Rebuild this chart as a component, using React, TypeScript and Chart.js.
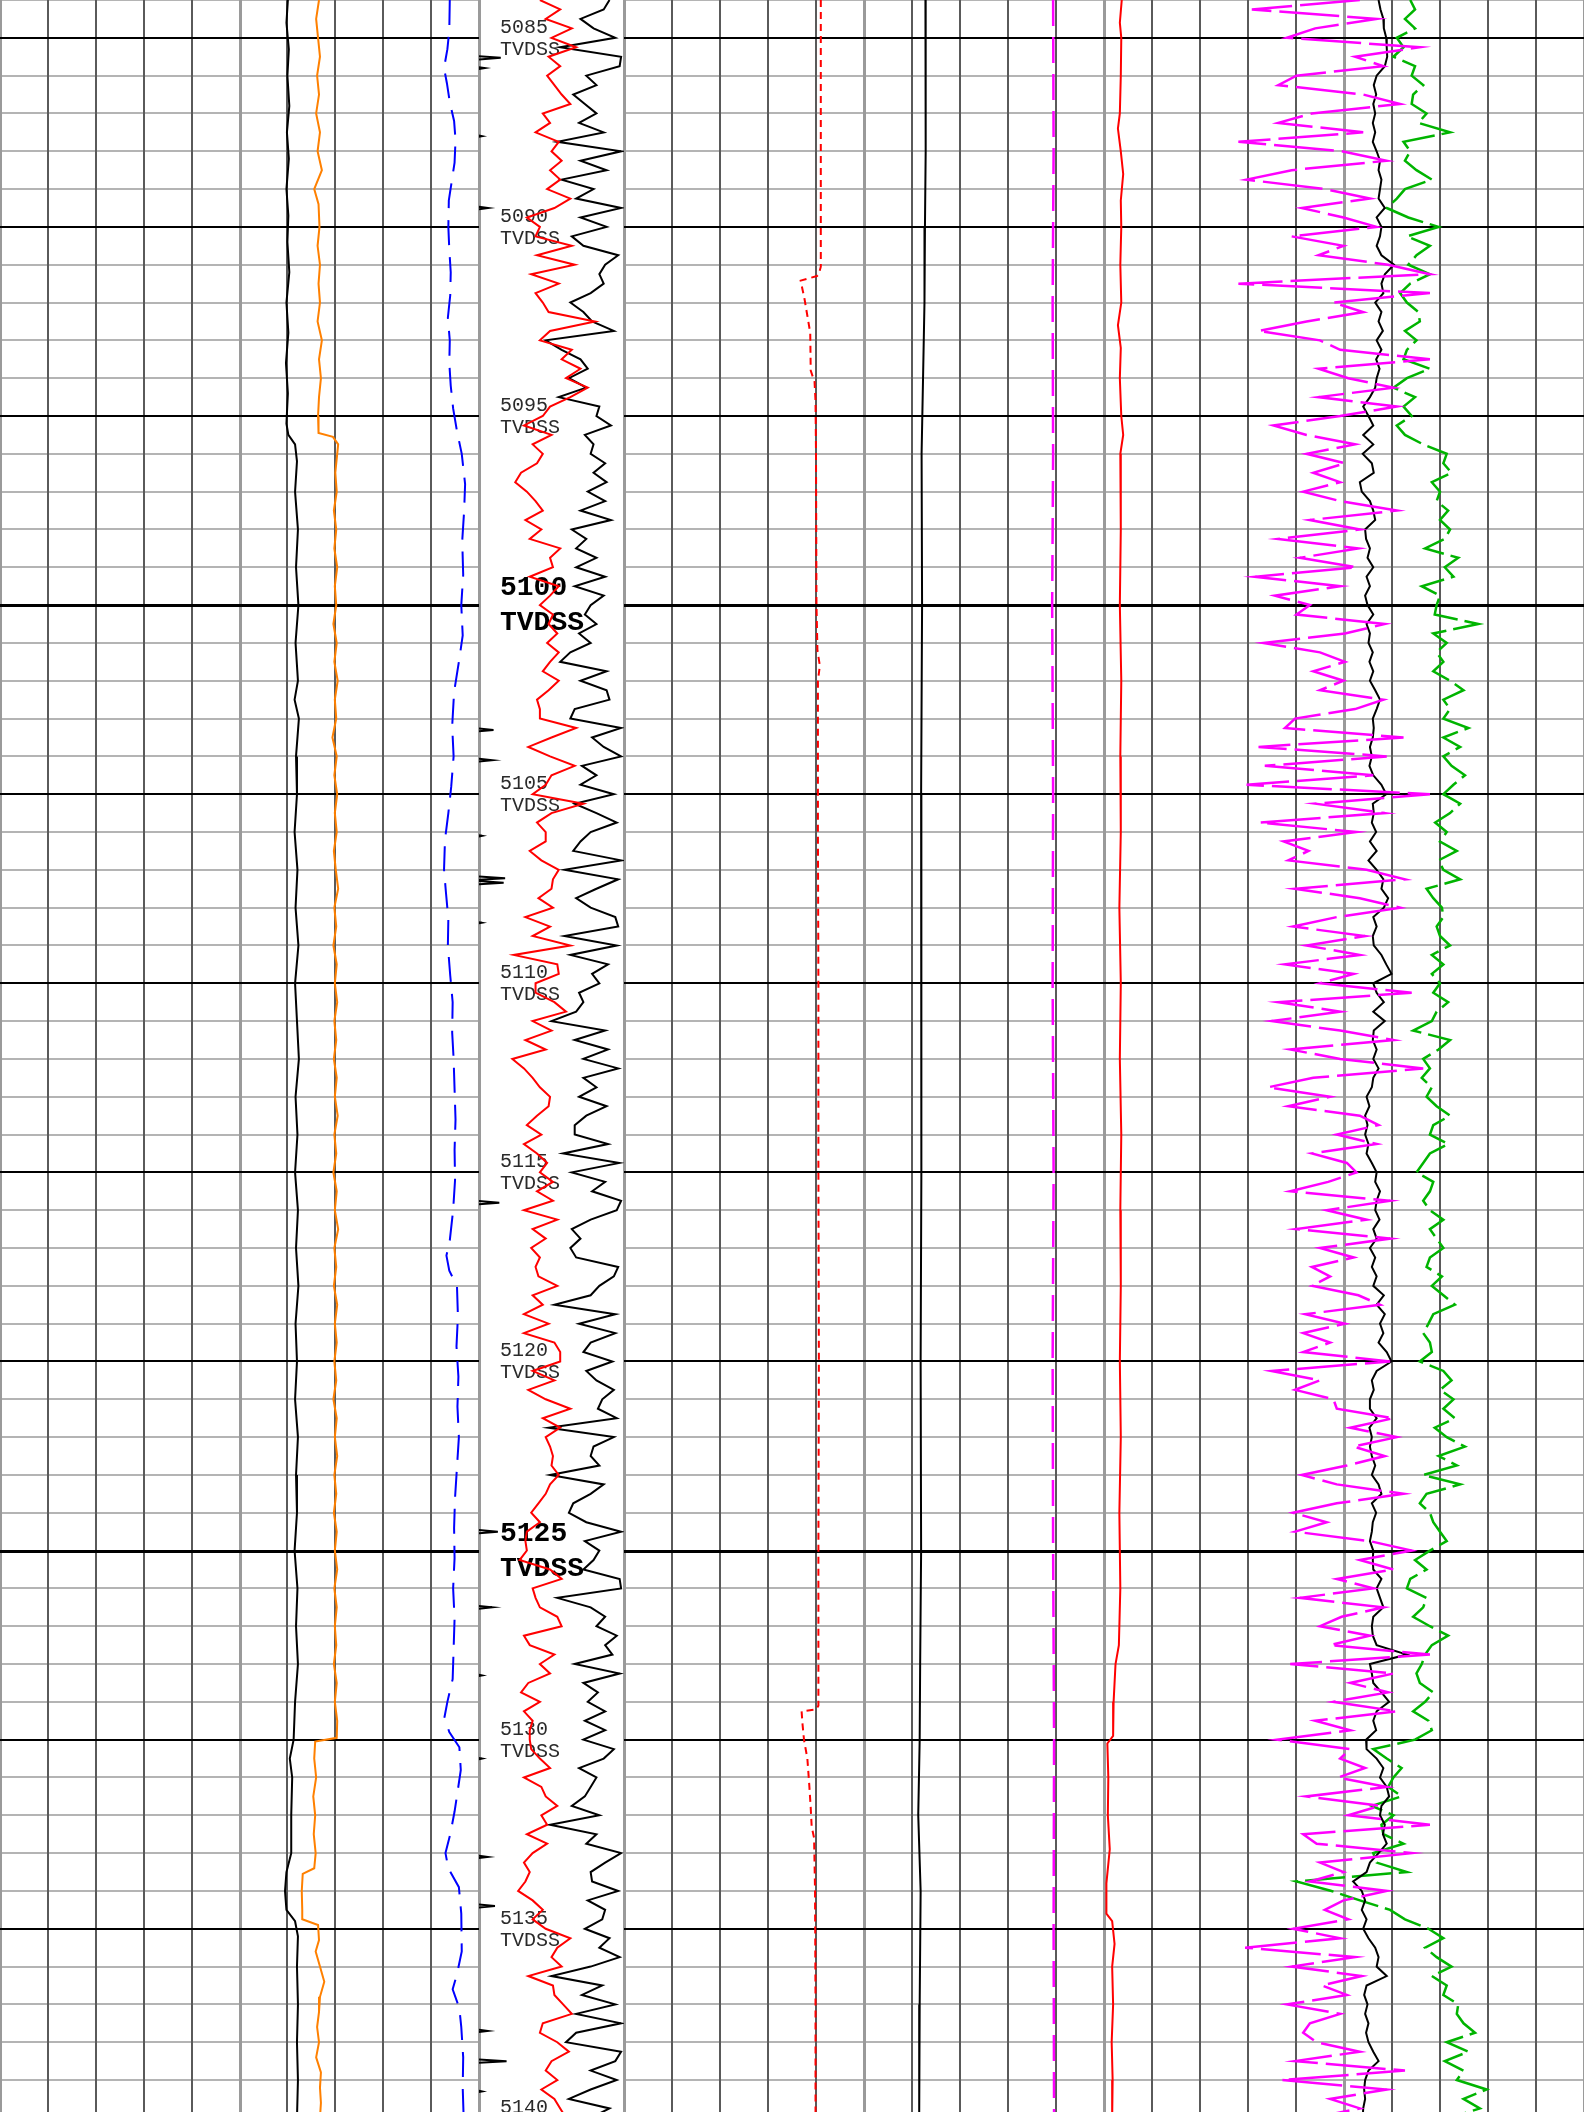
import React, { useEffect, useRef } from 'react';
import { Chart, registerables } from 'chart.js';

Chart.register(...registerables);

// ---------------- depth frame ----------------
const TOP_DEPTH = 5084.0;
const BOTTOM_DEPTH = 5139.845;
const SAMPLE_STEP = 0.25; // sample interval (m) of the high-resolution curves
const PAGE_HEIGHT = 2112;

const trackGridValues = [0, 10, 20, 30, 40, 50, 60, 70, 80, 90, 100];
const trackHeavyValues = [0, 50, 100];
const depthTrackEdges = [0, 100];
const depthLabels = [5085, 5090, 5095, 5100, 5105, 5110, 5115, 5120, 5125, 5130, 5135, 5140];
const boldDepthLabels = [5100, 5125];
const depthUnit = 'TVDSS';

// ---------------- track 1 ----------------
const track1Black: [number, number][] = [
  [5084.0, 60.1], [5084.6, 59.8], [5085.3, 60.3], [5086.0, 60.0], [5086.8, 60.4], [5087.5, 59.9], [5088.2, 60.3],
  [5089.0, 59.8], [5089.7, 60.2], [5090.4, 60.0], [5091.2, 60.4], [5092.0, 59.8], [5092.8, 60.2], [5093.6, 59.7],
  [5094.4, 60.1], [5095.2, 59.8], [5095.5, 60.2], [5095.75, 61.6], [5096.2, 62.0], [5097.0, 61.6], [5098.0, 62.2],
  [5099.0, 61.8], [5100.0, 62.3], [5101.0, 61.7], [5102.0, 62.2], [5102.5, 61.5], [5103.0, 62.4], [5104.0, 61.8],
  [5105.0, 62.0], [5106.0, 61.5], [5107.0, 62.1], [5108.0, 61.7], [5109.0, 62.3], [5110.0, 61.6], [5111.0, 62.0],
  [5112.0, 62.4], [5113.0, 61.7], [5114.0, 62.1], [5115.0, 61.6], [5116.0, 62.2], [5117.0, 61.8], [5118.0, 62.3],
  [5119.0, 61.7], [5120.0, 62.0], [5121.0, 61.6], [5122.0, 62.2], [5123.0, 61.8], [5124.0, 62.0], [5125.0, 61.5],
  [5126.0, 62.1], [5127.0, 61.8], [5128.0, 62.2], [5129.0, 61.6], [5130.0, 61.3], [5130.5, 60.5], [5131.0, 61.0],
  [5132.0, 60.8], [5133.0, 60.8], [5133.5, 59.8], [5134.0, 59.5], [5134.5, 59.8], [5134.8, 61.6], [5135.2, 62.2],
  [5136.0, 62.0], [5137.0, 62.2], [5138.0, 62.0], [5139.0, 62.2], [5140.0, 62.0],
];

const track1Orange: [number, number][] = [
  [5084.0, 66.6], [5084.5, 66.0], [5085.0, 66.4], [5085.5, 66.8], [5086.0, 66.2], [5086.5, 66.6], [5087.0, 66.0],
  [5087.5, 66.8], [5088.0, 66.3], [5088.5, 67.2], [5089.0, 65.6], [5089.4, 66.5], [5090.0, 66.7], [5090.5, 66.3],
  [5091.0, 66.8], [5091.5, 66.5], [5092.0, 66.8], [5092.5, 66.3], [5093.0, 67.2], [5093.5, 66.6], [5094.0, 67.0],
  [5094.5, 66.6], [5095.0, 66.4], [5095.45, 66.5], [5095.55, 69.5], [5095.75, 70.6], [5096.0, 70.4], [5096.5, 70.0],
  [5097.0, 70.3], [5097.5, 69.7], [5098.0, 70.2], [5098.5, 69.8], [5099.0, 70.4], [5099.5, 69.9], [5100.0, 70.2],
  [5100.5, 69.6], [5101.0, 70.3], [5101.5, 69.8], [5102.0, 70.5], [5102.5, 69.9], [5103.0, 70.2], [5103.5, 69.4],
  [5104.0, 70.3], [5104.5, 69.8], [5105.0, 70.4], [5105.5, 69.9], [5106.0, 70.3], [5106.5, 69.7], [5107.0, 70.1],
  [5107.5, 70.6], [5108.0, 69.8], [5108.5, 70.2], [5109.0, 69.6], [5109.5, 70.3], [5110.0, 69.9], [5110.5, 70.4],
  [5111.0, 69.8], [5111.5, 70.2], [5112.0, 69.7], [5112.5, 70.3], [5113.0, 69.9], [5113.5, 70.5], [5114.0, 69.8],
  [5114.5, 70.2], [5115.0, 69.6], [5115.5, 70.3], [5116.0, 69.9], [5116.5, 70.6], [5117.0, 69.8], [5117.5, 70.2],
  [5118.0, 69.7], [5118.5, 70.4], [5119.0, 69.9], [5119.5, 70.3], [5120.0, 69.8], [5120.5, 70.2], [5121.0, 69.6],
  [5121.5, 70.3], [5122.0, 69.9], [5122.5, 70.4], [5123.0, 69.8], [5123.5, 70.2], [5124.0, 69.7], [5124.5, 70.3],
  [5125.0, 69.9], [5125.5, 70.4], [5126.0, 69.8], [5126.5, 70.3], [5127.0, 69.9], [5127.5, 70.2], [5128.0, 69.7],
  [5128.5, 70.3], [5129.0, 69.9], [5129.5, 70.4], [5129.95, 70.3], [5130.05, 65.8], [5130.5, 65.6], [5131.0, 66.0],
  [5131.5, 65.4], [5132.0, 65.8], [5132.5, 65.5], [5133.0, 65.9], [5133.4, 65.6], [5133.55, 63.2], [5134.0, 63.0],
  [5134.5, 63.1], [5134.75, 63.1], [5134.9, 66.4], [5135.3, 66.6], [5135.6, 65.9], [5136.0, 66.8], [5136.4, 67.7],
  [5136.8, 66.8], [5137.2, 66.6], [5137.6, 66.2], [5138.0, 66.6], [5138.4, 66.0], [5138.8, 67.0], [5139.2, 66.8],
  [5139.6, 67.0], [5140.0, 66.8],
];

const track1BlueDash: [number, number][] = [
  [5084.0, 93.9], [5084.8, 93.8], [5085.3, 93.4], [5085.8, 92.7], [5086.2, 93.3], [5086.7, 93.9], [5087.2, 94.8],
  [5087.7, 95.1], [5088.3, 94.9], [5088.8, 94.3], [5089.3, 93.7], [5090.0, 93.6], [5090.6, 93.8], [5091.2, 94.1],
  [5091.8, 94.0], [5092.4, 93.5], [5093.0, 93.9], [5093.6, 93.8], [5094.2, 94.1], [5094.8, 94.6], [5095.4, 95.4],
  [5096.0, 96.4], [5096.8, 97.1], [5097.5, 96.9], [5098.3, 96.5], [5099.2, 96.7], [5100.0, 96.3], [5100.8, 96.6],
  [5101.5, 95.8], [5102.3, 94.8], [5103.2, 94.4], [5104.0, 94.7], [5104.8, 94.2], [5105.5, 93.6], [5106.2, 92.9],
  [5107.0, 92.7], [5107.6, 93.1], [5108.3, 93.6], [5109.0, 93.5], [5109.8, 94.0], [5110.5, 94.5], [5111.3, 94.4],
  [5112.0, 94.7], [5112.8, 94.9], [5113.6, 95.1], [5114.4, 94.9], [5115.2, 95.0], [5116.0, 94.6], [5116.8, 93.9],
  [5117.2, 93.2], [5117.6, 93.8], [5118.0, 95.4], [5118.8, 95.6], [5119.6, 95.3], [5120.4, 95.7], [5121.2, 95.5],
  [5122.0, 95.8], [5122.8, 95.4], [5123.6, 95.0], [5124.4, 94.8], [5125.2, 94.9], [5126.0, 94.6], [5126.8, 94.9],
  [5127.6, 94.7], [5128.4, 94.5], [5129.0, 93.4], [5129.4, 92.8], [5129.8, 93.8], [5130.2, 95.9], [5130.8, 96.2],
  [5131.4, 95.5], [5131.9, 94.9], [5132.5, 94.0], [5133.0, 93.0], [5133.4, 93.6], [5133.9, 95.8], [5134.6, 96.3],
  [5135.6, 96.4], [5136.2, 95.4], [5136.6, 94.5], [5137.1, 95.9], [5137.6, 96.3], [5138.4, 96.7], [5139.2, 96.6],
  [5140.0, 96.8],
];

// ---------------- depth track ----------------
const depthRed = [
  42, 56, 46, 64, 50, 67, 48, 56, 47, 52, 57, 63, 44, 49, 39, 55, 50, 57, 49, 56,
  47, 63, 52, 33, 42, 39, 64, 40, 66, 36, 55, 39, 44, 48, 80, 49, 42, 64, 57, 70,
  60, 75, 63, 49, 44, 31, 50, 37, 44, 40, 29, 25, 33, 39, 44, 32, 43, 35, 56, 49,
  51, 35, 55, 49, 42, 51, 48, 54, 47, 55, 49, 44, 55, 48, 40,
  42, 42, 67, 50, 34, 49, 66, 50, 46, 37, 72, 50, 40, 46, 46, 35, 43, 55, 51, 50,
  41, 51, 32, 49, 37, 63, 24, 54, 55, 39, 39, 52, 60, 37, 50, 32, 46, 23, 31, 37,
  42, 49, 48, 40, 33, 43, 31, 40, 47, 42, 51, 40, 51, 31, 54, 37, 46, 36, 42, 39,
  41, 54, 37, 44, 31, 48, 31, 52, 56, 56, 37, 52, 34, 46,
  63, 44, 56, 46, 49, 51, 50, 55, 49, 46, 41, 36, 42, 33, 32, 33, 28, 49, 57, 37,
  39, 42, 54, 57, 31, 35, 52, 42, 49, 34, 29, 42, 31, 37, 35, 35, 36, 42, 49, 31,
  43, 46, 54, 43, 47, 33, 47, 37, 31, 35, 32, 27, 37, 44, 37, 46, 63, 54, 50, 57,
  34, 51, 52, 58, 64, 44, 42, 54, 62, 50, 46, 54, 43, 52, 56, 60,
];

const depthBlack = [
  90, 86, 70, 79, 94, 56, 98, 97, 74, 81, 65, 73, 81, 69, 86, 54, 98, 70, 88, 57,
  79, 67, 98, 70, 88, 64, 72, 96, 87, 83, 86, 77, 63, 72, 78, 93, 46, 57, 70, 75,
  62, 74, 55, 83, 81, 91, 73, 79, 77, 87, 79, 88, 75, 87, 70, 91, 64, 74, 67, 81,
  67, 87, 66, 86, 77, 73, 81, 69, 77, 63, 56, 88, 70, 88, 90,
  66, 63, 98, 78, 86, 98, 71, 81, 70, 93, 66, 81, 95, 77, 70, 65, 98, 59, 96, 81,
  67, 77, 94, 96, 59, 95, 63, 89, 78, 83, 69, 72, 67, 50, 87, 66, 89, 72, 96, 72,
  81, 69, 88, 74, 66, 66, 89, 58, 97, 64, 87, 78, 98, 95, 77, 64, 70, 63, 67, 96,
  93, 83, 77, 52, 94, 69, 94, 77, 72, 92, 74, 81, 93, 85,
  82, 95, 48, 93, 79, 77, 83, 49, 86, 77, 65, 62, 74, 98, 73, 83, 79, 72, 97, 98,
  54, 77, 87, 81, 95, 87, 92, 66, 97, 72, 82, 75, 87, 73, 87, 72, 93, 86, 69, 81,
  77, 73, 64, 83, 49, 81, 74, 98, 87, 77, 78, 96, 75, 87, 85, 73, 90, 83, 97, 77,
  50, 85, 71, 94, 67, 98, 67, 60, 98, 94, 77, 95, 77, 62, 90, 77,
];

// [depth, deflection] of the short spikes at the left edge of the depth track
const depthSpikes: [number, number][] = [
  [5085.53, 15], [5085.8, 4], [5087.6, 2], [5089.5, 6], [5103.3, 10], [5104.1, 9], [5106.1, 2],
  [5107.22, 18], [5107.34, 17], [5108.4, 2], [5115.8, 14], [5124.5, 13], [5126.5, 9], [5128.3, 2],
  [5130.5, 2], [5133.1, 6], [5134.4, 11], [5137.7, 6], [5138.5, 19], [5139.3, 2],
];
const SPIKE_BASE = -6;

// ---------------- track 2 ----------------
const track2RedDot: [number, number][] = [
  [5084.0, 41.0], [5091.05, 41.0], [5091.25, 40.6], [5091.3, 40.2], [5091.42, 36.8], [5091.9, 37.6],
  [5092.35, 38.2], [5092.8, 38.8], [5093.8, 38.9], [5094.1, 39.7], [5094.6, 39.9], [5096.0, 40.0],
  [5100.0, 40.1], [5101.2, 40.3], [5101.6, 40.8], [5102.0, 40.4], [5106.0, 40.4], [5110.0, 40.5],
  [5115.0, 40.5], [5120.0, 40.6], [5125.0, 40.5], [5129.1, 40.5], [5129.2, 40.0], [5129.25, 37.0],
  [5129.6, 37.2], [5130.0, 37.5], [5130.5, 38.2], [5131.2, 38.6], [5131.8, 38.9], [5132.3, 39.1],
  [5132.6, 39.6], [5134.0, 39.8], [5137.0, 39.9], [5140.0, 39.9],
];

const track2Black: [number, number][] = [
  [5084, 62.8], [5086, 62.9], [5088, 62.8], [5090, 62.7], [5092, 62.6], [5094, 62.3], [5096, 62.0],
  [5100, 62.1], [5105, 61.9], [5110, 61.9], [5115, 62.0], [5120, 61.8], [5125, 61.9], [5128, 61.7],
  [5130, 61.6], [5132, 61.3], [5134, 61.8], [5137, 61.6], [5140, 61.5],
];

const track2MagentaDash: [number, number][] = [
  [5084, 89.4], [5088, 89.5], [5092, 89.3], [5096, 89.4], [5100, 89.2], [5105, 89.4], [5110, 89.3],
  [5115, 89.5], [5120, 89.3], [5125, 89.4], [5130, 89.6], [5135, 89.5], [5140, 89.6],
];

// ---------------- track 3 ----------------
const track3Red: [number, number][] = [
  [5084.0, 3.7], [5084.6, 3.3], [5085.0, 3.6], [5086.0, 3.5], [5087.0, 3.3], [5087.4, 2.9], [5088.0, 3.5],
  [5088.6, 4.0], [5089.3, 3.5], [5090.0, 3.6], [5091.0, 3.4], [5092.0, 3.6], [5092.6, 2.9], [5093.2, 3.5],
  [5094.0, 3.3], [5095.0, 3.6], [5095.5, 4.0], [5096.0, 3.4], [5098.0, 3.5], [5100.0, 3.3], [5102.0, 3.6],
  [5104.0, 3.4], [5106.0, 3.5], [5108.0, 3.2], [5110.0, 3.5], [5112.0, 3.3], [5114.0, 3.6], [5116.0, 3.4],
  [5118.0, 3.5], [5120.0, 3.3], [5122.0, 3.5], [5124.0, 3.2], [5126.0, 3.4], [5127.5, 3.1], [5128.0, 2.4],
  [5129.0, 2.0], [5129.9, 1.9], [5130.1, 0.7], [5131.0, 0.9], [5132.0, 0.8], [5132.9, 1.2], [5133.8, 0.5],
  [5134.6, 0.5], [5134.8, 1.7], [5135.4, 2.2], [5136.0, 1.7], [5137.0, 1.9], [5138.0, 1.6], [5139.0, 1.8],
  [5140.0, 1.7],
];

const track3Magenta = [
  53.3, 30.8, 56.8, 44.0, 38.1, 65.8, 52.3, 58.2, 40.1, 36.3, 54.0, 61.7, 43.3, 36.3, 54.0, 28.0, 49.5, 58.9, 39.1, 29.7,
  46.0, 55.4, 41.2, 49.9, 56.8, 39.1, 49.9, 44.7, 59.2, 67.9, 28.0, 67.9, 47.8, 54.0, 42.2, 32.2, 45.0, 49.2, 67.9, 44.7,
  50.9, 60.3, 44.7, 61.0, 49.2, 35.3, 42.2, 52.3, 42.2, 50.2, 43.6, 49.2, 41.5, 49.2, 61.0, 42.9, 53.3, 36.3, 53.0, 40.8,
  52.6, 31.5, 49.2, 35.6, 42.9, 40.1, 58.5, 50.2, 33.2, 45.0, 50.2, 43.6, 49.9, 45.0, 58.2,
  52.3, 39.8, 37.7, 62.4, 32.2, 58.9, 33.5, 56.1, 29.7, 67.9, 44.0, 58.5, 32.5, 52.6, 37.4, 42.6, 38.4, 54.7, 62.7, 39.8,
  53.3, 61.7, 48.5, 39.4, 54.4, 42.2, 53.3, 37.7, 52.0, 45.0, 64.1, 36.3, 49.2, 34.9, 49.2, 60.3, 38.8, 49.2, 66.5, 43.6,
  34.2, 47.1, 38.4, 53.3, 57.2, 48.5, 56.8, 43.3, 50.6, 52.6, 46.7, 38.8, 59.6, 46.4, 54.7, 40.1, 59.6, 45.0, 52.0, 43.3,
  47.1, 43.3, 53.0, 57.5, 41.9, 50.2, 41.5, 47.1, 41.5, 59.6, 34.9, 45.0, 39.8, 47.8,
  48.5, 60.3, 51.3, 61.0, 52.0, 58.5, 50.6, 41.2, 48.5, 62.4, 48.5, 39.4, 46.4, 39.8, 55.4, 64.1, 53.3, 60.3, 48.5, 56.1,
  40.8, 58.2, 49.5, 45.0, 55.4, 47.1, 67.9, 38.8, 60.3, 51.3, 59.2, 47.8, 61.0, 44.0, 51.3, 36.0, 51.3, 49.2, 54.4, 48.8,
  58.9, 42.2, 57.5, 50.9, 67.9, 41.5, 44.3, 64.1, 45.0, 49.9, 42.9, 58.9, 49.9, 46.0, 50.9, 39.4, 49.2, 29.4, 52.3, 39.1,
  53.7, 45.4, 50.6, 38.1, 49.2, 42.9, 41.5, 44.3, 53.3, 39.8, 62.7, 37.0, 58.9, 47.1, 53.3, 43.6,
];

const track3Black = [
  57.2, 57.6, 58.2, 58.3, 58.8, 58.9, 59.0, 58.5, 56.8, 56.2, 56.7, 56.1, 56.5, 56.0, 56.5, 56.0, 56.8, 57.5, 57.2, 57.8,
  57.5, 57.2, 58.5, 56.8, 57.8, 57.5, 56.8, 57.8, 60.4, 58.5, 57.8, 58.2, 56.5, 57.8, 57.2, 58.1, 56.8, 57.8, 56.7, 57.4,
  56.8, 56.5, 55.4, 54.0, 55.1, 56.1, 54.0, 56.1, 53.9, 55.8, 56.2, 53.3, 53.7, 55.4, 56.1, 56.5, 54.4, 54.6, 55.4, 54.9,
  56.1, 54.7, 55.4, 54.4, 54.9, 56.1, 54.7, 55.4, 55.1, 56.0, 55.3, 56.1, 55.4, 56.5, 57.5,
  56.8, 56.0, 56.2, 56.0, 55.4, 55.8, 55.3, 56.1, 57.8, 58.8, 56.0, 56.2, 55.8, 56.7, 55.4, 56.8, 55.1, 56.8, 58.2, 57.8,
  59.2, 58.3, 56.1, 56.8, 56.0, 56.2, 57.8, 58.8, 59.9, 56.1, 56.8, 58.3, 56.1, 58.5, 56.2, 56.0, 56.8, 56.1, 57.2, 56.1,
  55.8, 54.7, 55.3, 54.4, 54.9, 54.4, 55.1, 54.7, 55.8, 56.8, 56.5, 57.5, 56.8, 56.5, 57.4, 56.1, 56.8, 55.4, 56.5, 55.8,
  56.8, 56.1, 58.3, 56.8, 58.5, 57.5, 58.2, 57.2, 58.9, 59.9, 56.8, 55.8, 56.2, 55.4,
  55.4, 56.8, 55.3, 55.8, 55.4, 55.8, 56.5, 55.8, 57.2, 57.8, 55.8, 56.7, 56.0, 55.8, 55.4, 56.1, 56.0, 56.1, 57.8, 56.8,
  57.5, 58.2, 56.1, 55.8, 56.0, 56.8, 63.1, 55.4, 55.8, 56.1, 57.8, 59.4, 56.8, 56.1, 56.7, 54.6, 54.7, 56.8, 58.2, 57.5,
  58.9, 59.4, 57.8, 57.5, 58.5, 58.1, 58.9, 57.2, 55.4, 54.7, 51.9, 53.7, 54.4, 53.7, 54.7, 54.0, 55.1, 56.5, 57.2, 56.8,
  58.9, 54.7, 54.2, 54.9, 54.4, 55.1, 54.6, 55.1, 56.1, 57.2, 55.1, 54.4, 54.2, 54.4, 54.0, 53.9,
];

const track3Green = [
  63.8, 64.8, 62.7, 64.8, 61.0, 62.4, 60.3, 64.8, 64.1, 66.5, 64.4, 64.1, 67.2, 65.5, 72.1, 62.4, 63.8, 62.7, 65.1, 68.3,
  62.7, 61.0, 58.9, 63.4, 69.7, 63.1, 67.9, 65.1, 63.4, 67.9, 63.8, 61.7, 63.1, 65.5, 65.8, 62.7, 65.1, 63.1, 62.4, 67.9,
  63.1, 60.3, 64.8, 62.4, 64.1, 61.0, 62.7, 66.5, 71.4, 70.7, 72.4, 68.3, 70.0, 69.3, 71.7, 70.0, 72.1, 71.0, 66.9, 73.8,
  71.0, 72.8, 66.2, 70.0, 69.3, 68.9, 78.0, 68.6, 71.4, 69.3, 70.7, 68.6, 72.1, 74.9, 70.7,
  72.1, 70.7, 75.9, 70.7, 74.2, 70.7, 72.4, 75.2, 72.8, 70.7, 74.2, 72.1, 69.0, 71.4, 70.0, 73.5, 69.7, 70.7, 74.2, 67.2,
  68.6, 70.4, 70.7, 69.3, 70.0, 72.1, 68.3, 70.7, 68.3, 70.0, 68.6, 71.7, 69.3, 68.3, 64.4, 72.1, 69.7, 66.5, 67.9, 66.2,
  68.3, 67.2, 69.3, 72.1, 68.6, 67.9, 71.7, 67.9, 66.5, 65.1, 68.6, 67.9, 66.5, 67.9, 70.7, 67.9, 69.3, 70.7, 67.9, 67.2,
  70.4, 68.3, 70.7, 73.1, 68.6, 67.6, 66.5, 67.9, 68.3, 65.8, 70.7, 72.4, 70.0, 72.8,
  70.7, 73.1, 68.9, 71.4, 75.2, 69.7, 73.5, 66.5, 74.2, 67.2, 65.8, 67.9, 68.6, 70.0, 71.4, 67.9, 64.8, 67.2, 63.8, 63.1,
  67.2, 66.5, 64.4, 67.9, 71.7, 68.3, 66.9, 66.2, 65.1, 65.8, 68.6, 66.9, 64.4, 67.6, 68.3, 64.8, 56.1, 58.9, 62.0, 60.3,
  59.2, 62.0, 55.8, 60.3, 57.8, 58.2, 62.4, 56.1, 56.8, 63.1, 40.1, 47.4, 53.3, 59.6, 62.7, 67.6, 70.7, 66.9, 69.3, 72.4,
  68.3, 71.4, 70.7, 73.8, 73.5, 74.9, 77.3, 71.4, 75.9, 71.0, 74.9, 73.5, 79.7, 74.9, 78.3, 72.1,
];

// ---------------- helpers ----------------
type Pt = { x: number; y: number };
const sampled = (vals: number[]): Pt[] => vals.map((v, i) => ({ x: v, y: TOP_DEPTH + i * SAMPLE_STEP }));
const paired = (pairs: [number, number][]): Pt[] => pairs.map(([d, v]) => ({ x: v, y: d }));
const spikeTable = (list: [number, number][], base: number): Pt[] =>
  list.flatMap(([d, v]) => [
    { x: base, y: d - 0.06 },
    { x: v, y: d },
    { x: base, y: d + 0.06 },
  ]);

const line = (data: Pt[], color: string, width: number, dash: number[] = []) => ({
  data,
  borderColor: color,
  borderWidth: width,
  borderDash: dash,
  pointRadius: 0,
  tension: 0,
  fill: false,
  borderCapStyle: 'butt',
  borderJoinStyle: 'miter',
});

// ---------------- plugins ----------------
function strokeH(ctx: CanvasRenderingContext2D, y: number, x0: number, x1: number, color: string, w: number) {
  const yy = w % 2 ? Math.round(y) + 0.5 : Math.round(y);
  ctx.beginPath();
  ctx.strokeStyle = color;
  ctx.lineWidth = w;
  ctx.moveTo(x0, yy);
  ctx.lineTo(x1, yy);
  ctx.stroke();
}
function strokeV(ctx: CanvasRenderingContext2D, x: number, y0: number, y1: number, color: string, w: number) {
  const xx = w % 2 ? Math.round(x) + 0.5 : Math.round(x);
  ctx.beginPath();
  ctx.strokeStyle = color;
  ctx.lineWidth = w;
  ctx.moveTo(xx, y0);
  ctx.lineTo(xx, y1);
  ctx.stroke();
}

const logGridPlugin = {
  id: 'logGrid',
  beforeDatasetsDraw(chart: any, _args: any, opts: any) {
    const { ctx, chartArea, scales } = chart;
    const xs = scales.x;
    const ys = scales.y;
    const { left, right, top, bottom } = chartArea;
    ctx.save();
    const depths: number[] = [];
    for (let d = Math.ceil(TOP_DEPTH); d <= Math.ceil(BOTTOM_DEPTH); d++) depths.push(d);
    if (opts.horizontal) {
      depths.filter((d) => d % 5 !== 0).forEach((d) => strokeH(ctx, ys.getPixelForValue(d), left, right, '#b4b4b4', 2));
    }
    (opts.lines || []).forEach((v: number) => strokeV(ctx, xs.getPixelForValue(v), top, bottom, '#5a5a5a', 2));
    (opts.heavy || []).forEach((v: number) => strokeV(ctx, xs.getPixelForValue(v), top, bottom, '#9a9a9a', 3));
    if (opts.horizontal) {
      depths
        .filter((d) => d % 5 === 0)
        .forEach((d) => {
          const heavy = d % 25 === 0;
          strokeH(ctx, ys.getPixelForValue(d), left, right, '#000', heavy ? 3 : 2);
        });
    }
    ctx.restore();
  },
};

const depthLabelPlugin = {
  id: 'depthLabels',
  beforeDatasetsDraw(chart: any, _args: any, opts: any) {
    if (!opts.show) return;
    const { ctx, scales } = chart;
    const ys = scales.y;
    ctx.save();
    ctx.textAlign = 'left';
    ctx.textBaseline = 'alphabetic';
    depthLabels.forEach((d) => {
      const y = ys.getPixelForValue(d);
      const bold = boldDepthLabels.includes(d);
      ctx.fillStyle = bold ? '#000' : '#2a2a2a';
      ctx.font = bold ? 'bold 28px "Liberation Mono", monospace' : '20px "Liberation Mono", monospace';
      ctx.fillText(String(d), 21, y - (bold ? 10 : 5));
      ctx.fillText(depthUnit, 21, y + (bold ? 25 : 17));
    });
    ctx.restore();
  },
};

// ---------------- track component ----------------
type TrackProps = {
  width: number;
  datasets: any[];
  grid: { horizontal: boolean; lines: number[]; heavy: number[] };
  labels?: boolean;
};

function LogTrack({ width, datasets, grid, labels }: TrackProps) {
  const ref = useRef<HTMLCanvasElement | null>(null);
  useEffect(() => {
    if (!ref.current) return;
    const chart = new Chart(ref.current, {
      type: 'line',
      data: { datasets },
      options: {
        responsive: false,
        maintainAspectRatio: false,
        animation: false,
        devicePixelRatio: 1,
        indexAxis: 'y',
        events: [],
        layout: { padding: 0 },
        plugins: {
          legend: { display: false },
          tooltip: { enabled: false },
          logGrid: grid,
          depthLabels: { show: !!labels },
        } as any,
        scales: {
          x: { type: 'linear', min: 0, max: 100, display: false },
          y: { type: 'linear', min: TOP_DEPTH, max: BOTTOM_DEPTH, reverse: true, display: false },
        },
      },
      plugins: [logGridPlugin, depthLabelPlugin],
    } as any);
    return () => chart.destroy();
  }, []);
  return (
    <canvas
      ref={ref}
      width={width}
      height={PAGE_HEIGHT}
      style={{ display: 'block', width, height: PAGE_HEIGHT, flex: 'none' }}
    />
  );
}

export default function App() {
  useEffect(() => {
    document.body.style.margin = '0';
    document.body.style.background = '#fff';
  }, []);

  const track1 = [
    line(paired(track1Black), '#000000', 2),
    line(paired(track1Orange), '#ff8000', 2),
    line(paired(track1BlueDash), '#0000ff', 2, [25, 12]),
  ];
  const depthTrack = [
    line(spikeTable(depthSpikes, SPIKE_BASE), '#000000', 2),
    line(sampled(depthRed), '#ff0000', 2),
    line(sampled(depthBlack), '#000000', 2),
  ];
  const track2 = [
    line(paired(track2RedDot), '#ff0000', 2, [7, 5]),
    line(paired(track2Black), '#000000', 2),
    line(paired(track2MagentaDash), '#ff00ff', 2.5, [26, 11]),
  ];
  const track3 = [
    line(paired(track3Red), '#ff0000', 2),
    line(sampled(track3Magenta), '#ff00ff', 2.5, [60, 8]),
    line(sampled(track3Black), '#000000', 2),
    line(sampled(track3Green), '#00b400', 2.5, [40, 7]),
  ];

  const fullGrid = { horizontal: true, lines: trackGridValues, heavy: trackHeavyValues };

  return (
    <div style={{ display: 'flex', width: 1584, height: PAGE_HEIGHT, overflow: 'hidden', background: '#fff' }}>
      <LogTrack width={479} datasets={track1} grid={fullGrid} />
      <LogTrack width={145} datasets={depthTrack} grid={{ horizontal: false, lines: [], heavy: depthTrackEdges }} labels />
      <LogTrack width={480} datasets={track2} grid={fullGrid} />
      <LogTrack width={480} datasets={track3} grid={fullGrid} />
    </div>
  );
}
